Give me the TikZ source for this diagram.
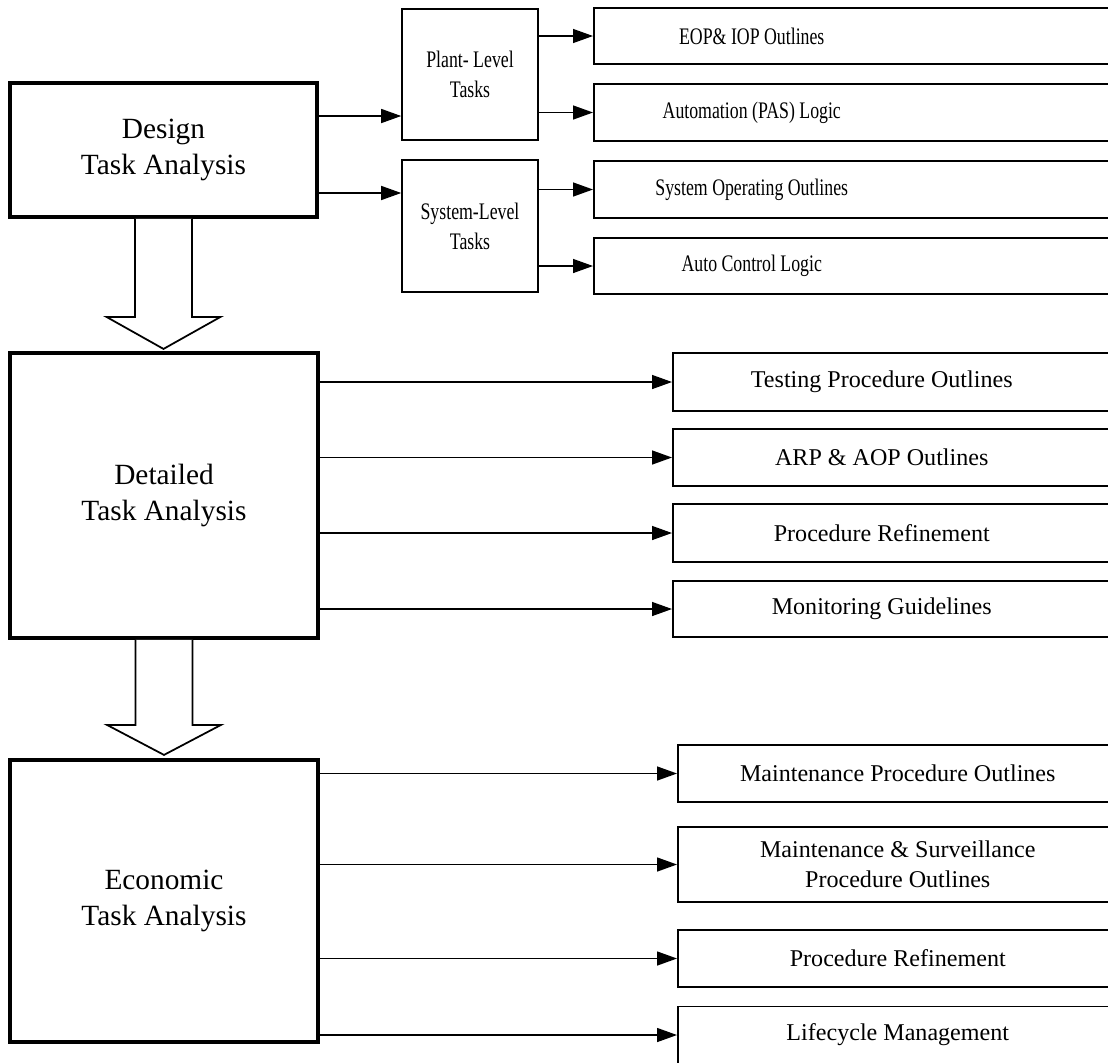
\documentclass[tikz,border=0pt]{standalone}
\usepackage{fontspec}
\setmainfont{Liberation Serif}
\newfontfamily\narrowserif[FakeStretch=0.75]{Liberation Serif}
\usetikzlibrary{arrows.meta,calc}

\tikzset{
  bigbox/.style={draw, line width=2.2pt, fill=white, align=center, inner sep=0pt,
    font=\fontsize{16.7}{20}\selectfont},
  midbox/.style={draw, line width=0.9pt, align=center, inner sep=0pt,
    minimum width=2.72cm, minimum height=2.62cm,
    font=\narrowserif\fontsize{13.5}{17}\selectfont},
  outbox/.style={draw, line width=0.9pt, anchor=west, inner sep=0pt,
    minimum width=12cm, minimum height=1.14cm},
  conn/.style={-{Triangle[length=0.4cm,width=0.28cm]}, line width=0.8pt},
  blockarrow/.style={draw, line width=1pt, fill=white, line join=miter}
}

\begin{document}
\begin{tikzpicture}[x=0.02cm, y=-0.02cm]
    \useasboundingbox (0,0) rectangle (1108,1062);
    \clip (0,0) rectangle (1108,1062);

    % Analysis stages
    \node[bigbox, minimum width=6.14cm, minimum height=2.68cm] (design) at (163.5,150) {Design\\Task Analysis};
    \node[bigbox, minimum width=6.16cm, minimum height=5.7cm] (detailed) at (164,495.5) {Detailed\\Task Analysis};
    \node[bigbox, minimum width=6.16cm, minimum height=5.64cm] (economic) at (164,901) {Economic\\Task Analysis};

    % Block arrows between stages
    \draw[blockarrow] ($(design.south)+(-28.5,0)$) -- ++(0,98) -- ++(-28.5,0)
      -- ($(design.south)+(0,130)$) -- ($(design.south)+(57,98)$) -- ++(-28.5,0)
      -- ($(design.south)+(28.5,0)$);
    \draw[blockarrow] ($(detailed.south)+(-28.5,0)$) -- ++(0,85) -- ++(-28.5,0)
      -- ($(detailed.south)+(0,115)$) -- ($(detailed.south)+(57,85)$) -- ++(-28.5,0)
      -- ($(detailed.south)+(28.5,0)$);

    % Task levels
    \node[midbox] (plant) at (470,74.5) {Plant- Level\\Tasks};
    \node[midbox, minimum height=2.64cm] (system) at (470,226) {System-Level\\Tasks};

    % Outputs of design task analysis
    \begin{scope}[every label/.append style={xshift=-2.84cm, align=center,
        font=\narrowserif\fontsize{13.5}{17}\selectfont}]
      \node[outbox, minimum height=1.12cm, label=center:EOP\& IOP Outlines] (eop) at (593,36) {};
      \node[outbox, label=center:Automation (PAS) Logic] (pas) at (593,112.5) {};
      \node[outbox, label=center:System Operating Outlines] (sysop) at (593,189.5) {};
      \node[outbox, minimum height=1.12cm, label=center:Auto Control Logic] (autoctl) at (593,266) {};
    \end{scope}

    % Outputs of detailed task analysis
    \begin{scope}[every label/.append style={xshift=-1.82cm, align=center,
        font=\fontsize{13.7}{17}\selectfont}]
      \node[outbox, minimum height=1.16cm, label=center:Testing Procedure Outlines] (testing) at (672,382) {};
      \node[outbox, label=center:ARP \& AOP Outlines] (arp) at (672,457.5) {};
      \node[outbox, minimum height=1.16cm, label=center:Procedure Refinement] (refineA) at (672,533) {};
      \node[outbox, minimum height=1.12cm, label=center:Monitoring Guidelines] (monitor) at (672,609) {};
    \end{scope}

    % Outputs of economic task analysis
    \begin{scope}[every label/.append style={xshift=-1.6cm, align=center,
        font=\fontsize{13.7}{17}\selectfont}]
      \node[outbox, label=center:Maintenance Procedure Outlines] (maintproc) at (677,773.5) {};
      \node[outbox, minimum height=1.5cm, label={center:Maintenance \& Surveillance\\Procedure Outlines}] (maintsurv) at (677,864.5) {};
      \node[outbox, label=center:Procedure Refinement] (refineB) at (677,958.5) {};
      \node[outbox, label=center:Lifecycle Management] (lifecycle) at (677,1035) {};
    \end{scope}

    % Connectors
    \draw[conn] ([yshift=0.68cm]design.east) -- ([yshift=0.68cm]design.east -| plant.west);
    \draw[conn] ([yshift=-0.86cm]design.east) -- ([yshift=-0.86cm]design.east -| system.west);
    \foreach \src/\dst in {plant/eop, plant/pas, system/sysop, system/autoctl,
        detailed/testing, detailed/arp, detailed/refineA, detailed/monitor,
        economic/maintproc, economic/maintsurv, economic/refineB, economic/lifecycle}
      \draw[conn] (\src.east |- \dst.west) -- (\dst.west);
  \end{tikzpicture}
\end{document}
